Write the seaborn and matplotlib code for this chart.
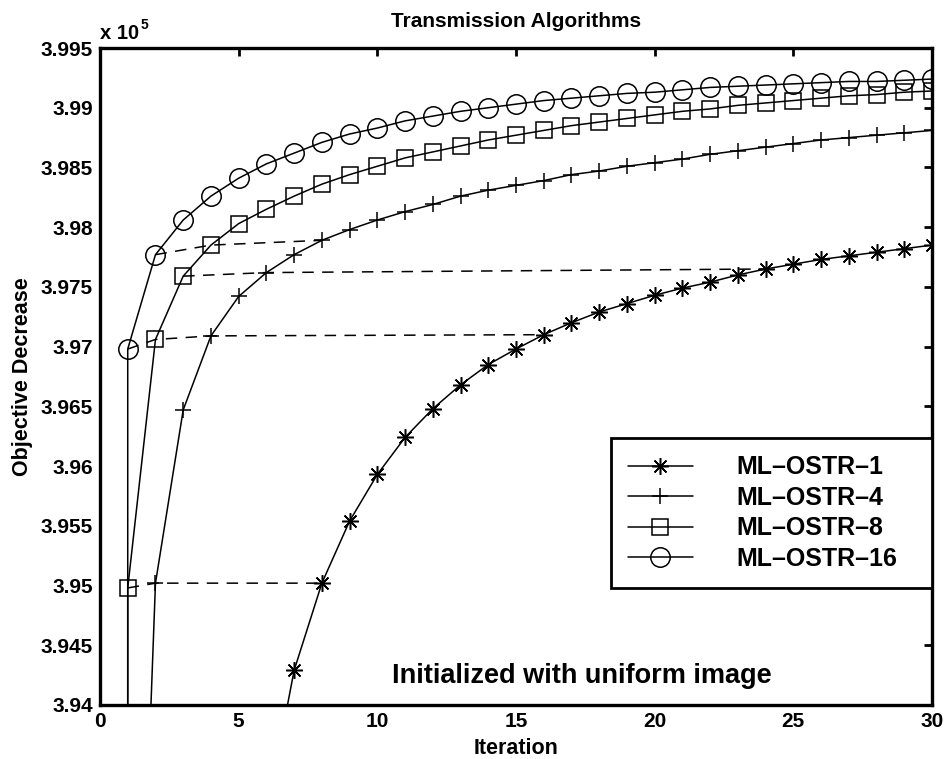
import matplotlib
matplotlib.use("Agg")
import matplotlib.pyplot as plt
import seaborn as sns
import pandas as pd
from matplotlib.ticker import MultipleLocator, FuncFormatter

# ---------------- data (objective values in units of 10^5) ----------------
iterations = list(range(1, 31))
initial_value = 3.70  # uniform-image start (below the visible range)

ostr1 = [3.760, 3.820, 3.862, 3.893, 3.915, 3.9308, 3.9429, 3.9502, 3.9554, 3.9593,
         3.9624, 3.9648, 3.9668, 3.9685, 3.9698, 3.9710, 3.9720, 3.9729, 3.9736, 3.9743,
         3.9749, 3.9754, 3.9760, 3.9765, 3.9769, 3.9773, 3.9776, 3.9779, 3.9782, 3.9785]
ostr4 = [3.8876, 3.9502, 3.9647, 3.9709, 3.9742, 3.9762, 3.9777, 3.9789, 3.9798, 3.9806,
         3.9813, 3.9819, 3.9826, 3.9831, 3.9835, 3.9839, 3.9844, 3.9847, 3.9851, 3.9854,
         3.9857, 3.9861, 3.9864, 3.9867, 3.9870, 3.9873, 3.9875, 3.9877, 3.9879, 3.9881]
ostr8 = [3.9498, 3.9706, 3.9759, 3.9785, 3.9803, 3.9815, 3.9826, 3.9836, 3.9844, 3.9851,
         3.9858, 3.9863, 3.9868, 3.9873, 3.9877, 3.9881, 3.9885, 3.9888, 3.9891, 3.9894,
         3.9897, 3.9899, 3.9902, 3.9904, 3.9906, 3.9908, 3.9910, 3.9911, 3.9913, 3.9914]
ostr16 = [3.9698, 3.9777, 3.9806, 3.9826, 3.9841, 3.9853, 3.9862, 3.9871, 3.9878, 3.9883,
          3.9889, 3.9893, 3.9897, 3.9900, 3.9903, 3.9906, 3.9908, 3.9910, 3.9912, 3.9913,
          3.9915, 3.9917, 3.9918, 3.9919, 3.9920, 3.9921, 3.9922, 3.9922, 3.9923, 3.9924]

series_labels = ["ML\u2013OSTR\u20131", "ML\u2013OSTR\u20134", "ML\u2013OSTR\u20138", "ML\u2013OSTR\u201316"]
series_values = [ostr1, ostr4, ostr8, ostr16]

# dashed "equal objective" links: (series index, iteration)
links = [
    [(3, 1), (2, 2), (1, 4), (0, 16)],
    [(3, 2), (2, 4), (1, 8)],
    [(2, 1), (1, 2), (0, 8)],
    [(2, 3), (1, 6), (0, 24)],
]

x_ticks = [0, 5, 10, 15, 20, 25, 30]
title_text = "Transmission Algorithms"
x_label = "Iteration"
y_label = "Objective Decrease"
note_text = "Initialized with uniform image"

# ---------------- style ----------------
sns.set_theme(style="white")
plt.rcParams["font.family"] = ["Liberation Sans", "DejaVu Sans"]
plt.rcParams["font.weight"] = "bold"
plt.rcParams["text.color"] = "black"
plt.rcParams["axes.labelcolor"] = "black"
plt.rcParams["xtick.color"] = "black"
plt.rcParams["ytick.color"] = "black"

markers = [(8, 2, 0), "+", "s", "o"]
marker_sizes = [12, 12, 11, 14]

fig = plt.figure(figsize=(9.48, 7.59), dpi=100)
fig.patch.set_facecolor("white")
ax = fig.add_axes([100 / 948, 1 - 705 / 759, 832 / 948, 657 / 759])
ax.set_facecolor("white")

handles = []
for vals, lab, mk, ms in zip(series_values, series_labels, markers, marker_sizes):
    df = pd.DataFrame({"it": [1] + iterations, "val": [initial_value] + vals})
    n_before = len(ax.lines)
    sns.lineplot(data=df, x="it", y="val", ax=ax, estimator=None, sort=False,
                 color="black", linewidth=1.1, marker=mk, markersize=ms,
                 markerfacecolor="none", markeredgecolor="black", markeredgewidth=1.1,
                 legend=False)
    handles.append(ax.lines[n_before])

for link in links:
    lx = [it for s, it in link]
    ly = [series_values[s][it - 1] for s, it in link]
    sns.lineplot(x=lx, y=ly, ax=ax, estimator=None, sort=False, color="black",
                 linewidth=1.1, linestyle=(0, (7.5, 5.5)), legend=False)

ax.set_xlim(0, 30)
ax.set_ylim(3.94, 3.995)
ax.set_xticks(x_ticks)
ax.yaxis.set_major_locator(MultipleLocator(0.005))
ax.yaxis.set_major_formatter(FuncFormatter(lambda v, p: ("%.3f" % v).rstrip("0").rstrip(".")))

for sp in ax.spines.values():
    sp.set_visible(True)
    sp.set_color("black")
    sp.set_linewidth(2.4)
ax.tick_params(axis="both", direction="in", length=6, width=2.0, top=True, right=True,
               labelsize=15, colors="black", labelcolor="black", pad=5)
for lbl in ax.get_xticklabels() + ax.get_yticklabels():
    lbl.set_fontweight("bold")
    lbl.set_color("black")

ax.set_title(title_text, fontsize=15, fontweight="bold", pad=15, color="black")
ax.set_xlabel(x_label, fontsize=15.5, fontweight="bold", color="black")
ax.set_ylabel(y_label, fontsize=15.5, fontweight="bold", color="black")
ax.xaxis.set_label_coords(0.5, -0.050)
ax.yaxis.set_label_coords(-0.0805, 0.5)

exp_txt = ax.text(0.0, 1.0132, "x 10", transform=ax.transAxes, fontsize=14.5,
                  fontweight="bold", ha="left", va="baseline", color="black")
ax.annotate("5", xy=(1.0, 0.62), xycoords=exp_txt, xytext=(1, 0), textcoords="offset points",
            fontsize=10, fontweight="bold", ha="left", va="bottom", color="black")

ax.text((391.7 - 100) / 832, (705 - 683) / 657, note_text, transform=ax.transAxes,
        fontsize=19.5, fontweight="bold", ha="left", va="baseline", color="black")

leg = ax.legend(handles, series_labels, loc="upper left",
                bbox_to_anchor=((610.7 - 100) / 832, (705 - 586.7) / 657,
                                (932.3 - 610.7) / 832, (586.7 - 438.3) / 657),
                mode="expand", borderaxespad=0, numpoints=1, handlelength=2.62,
                handletextpad=1.74, labelspacing=0.26, borderpad=0.68,
                fancybox=False, framealpha=1, edgecolor="black",
                prop={"family": ["Liberation Sans", "DejaVu Sans"], "weight": "bold", "size": 18})
leg.get_frame().set_linewidth(2.0)
for t in leg.get_texts():
    t.set_color("black")

fig.savefig("out.png", dpi=100, facecolor="white")
